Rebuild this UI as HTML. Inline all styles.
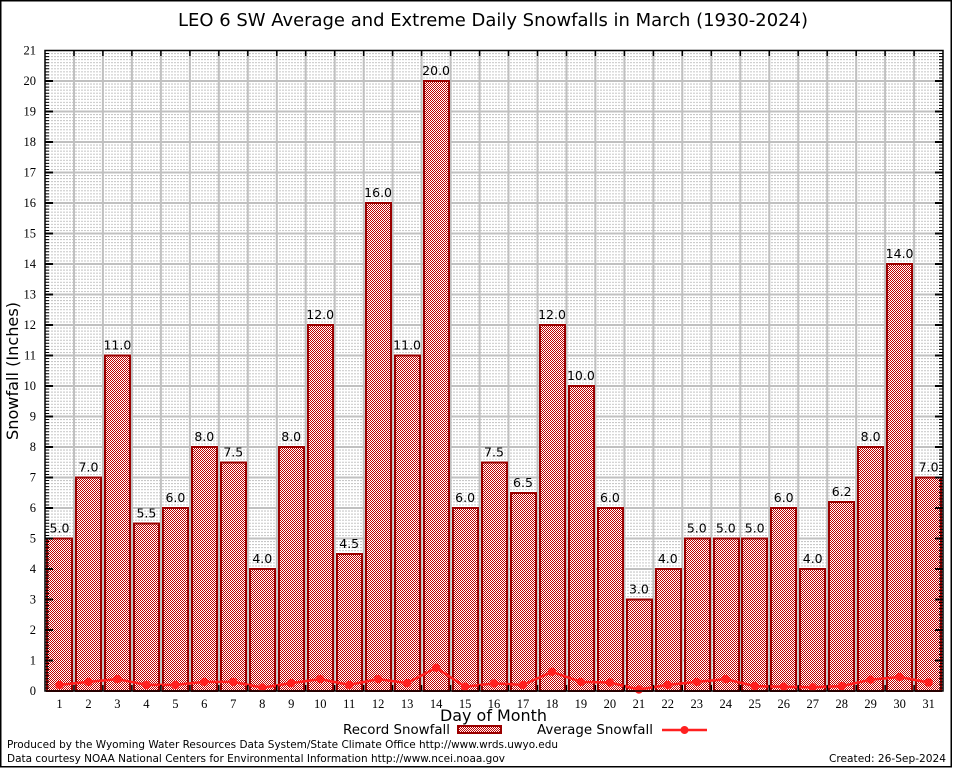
<!DOCTYPE html>
<html><head><meta charset="utf-8"><style>
html,body{margin:0;padding:0;background:#fff;}
svg{display:block;}
</style></head><body>
<svg width="954" height="768" viewBox="0 0 954 768" xmlns="http://www.w3.org/2000/svg">
<defs>
<pattern id="chk" width="2" height="2" patternUnits="userSpaceOnUse">
<rect width="2" height="2" fill="#ffffff" shape-rendering="crispEdges"/>
<rect x="0" y="0" width="1" height="1" fill="#c00000" shape-rendering="crispEdges"/>
<rect x="1" y="1" width="1" height="1" fill="#c00000" shape-rendering="crispEdges"/>
</pattern>
<pattern id="mg" x="45" y="690.5" width="3" height="3.05" patternUnits="userSpaceOnUse">
<rect x="0" y="0" width="2" height="1" fill="#c4c4c4"/>
</pattern>
</defs>
<rect width="954" height="768" fill="#fff"/>
<rect x="45" y="50.5" width="898" height="640.5" fill="url(#mg)"/>
<g stroke="#c0c0c0" stroke-width="2">
<line x1="45" x2="943" y1="660.5" y2="660.5"/><line x1="45" x2="943" y1="630" y2="630"/><line x1="45" x2="943" y1="599.5" y2="599.5"/><line x1="45" x2="943" y1="569" y2="569"/><line x1="45" x2="943" y1="538.5" y2="538.5"/><line x1="45" x2="943" y1="508" y2="508"/><line x1="45" x2="943" y1="477.5" y2="477.5"/><line x1="45" x2="943" y1="447" y2="447"/><line x1="45" x2="943" y1="416.5" y2="416.5"/><line x1="45" x2="943" y1="386" y2="386"/><line x1="45" x2="943" y1="355.5" y2="355.5"/><line x1="45" x2="943" y1="325" y2="325"/><line x1="45" x2="943" y1="294.5" y2="294.5"/><line x1="45" x2="943" y1="264" y2="264"/><line x1="45" x2="943" y1="233.5" y2="233.5"/><line x1="45" x2="943" y1="203" y2="203"/><line x1="45" x2="943" y1="172.5" y2="172.5"/><line x1="45" x2="943" y1="142" y2="142"/><line x1="45" x2="943" y1="111.5" y2="111.5"/><line x1="45" x2="943" y1="81" y2="81"/>
</g>
<g stroke="#c0c0c0" stroke-width="2">
<line x1="74" x2="74" y1="50" y2="691"/><line x1="102.9" x2="102.9" y1="50" y2="691"/><line x1="131.9" x2="131.9" y1="50" y2="691"/><line x1="160.9" x2="160.9" y1="50" y2="691"/><line x1="189.9" x2="189.9" y1="50" y2="691"/><line x1="218.8" x2="218.8" y1="50" y2="691"/><line x1="247.8" x2="247.8" y1="50" y2="691"/><line x1="276.8" x2="276.8" y1="50" y2="691"/><line x1="305.7" x2="305.7" y1="50" y2="691"/><line x1="334.7" x2="334.7" y1="50" y2="691"/><line x1="363.7" x2="363.7" y1="50" y2="691"/><line x1="392.6" x2="392.6" y1="50" y2="691"/><line x1="421.6" x2="421.6" y1="50" y2="691"/><line x1="450.6" x2="450.6" y1="50" y2="691"/><line x1="479.6" x2="479.6" y1="50" y2="691"/><line x1="508.5" x2="508.5" y1="50" y2="691"/><line x1="537.5" x2="537.5" y1="50" y2="691"/><line x1="566.5" x2="566.5" y1="50" y2="691"/><line x1="595.4" x2="595.4" y1="50" y2="691"/><line x1="624.4" x2="624.4" y1="50" y2="691"/><line x1="653.4" x2="653.4" y1="50" y2="691"/><line x1="682.3" x2="682.3" y1="50" y2="691"/><line x1="711.3" x2="711.3" y1="50" y2="691"/><line x1="740.3" x2="740.3" y1="50" y2="691"/><line x1="769.3" x2="769.3" y1="50" y2="691"/><line x1="798.2" x2="798.2" y1="50" y2="691"/><line x1="827.2" x2="827.2" y1="50" y2="691"/><line x1="856.2" x2="856.2" y1="50" y2="691"/><line x1="885.1" x2="885.1" y1="50" y2="691"/><line x1="914.1" x2="914.1" y1="50" y2="691"/>
</g>
<g fill="url(#chk)" stroke="#9a0000" stroke-width="2" shape-rendering="crispEdges">
<rect x="47" y="538.5" width="25" height="152.5"/>
<rect x="76" y="477.5" width="25" height="213.5"/>
<rect x="105" y="355.5" width="25" height="335.5"/>
<rect x="134" y="523.25" width="25" height="167.75"/>
<rect x="163" y="508" width="25" height="183"/>
<rect x="192" y="447" width="25" height="244"/>
<rect x="221" y="462.25" width="25" height="228.75"/>
<rect x="250" y="569" width="25" height="122"/>
<rect x="279" y="447" width="25" height="244"/>
<rect x="308" y="325" width="25" height="366"/>
<rect x="337" y="553.75" width="25" height="137.25"/>
<rect x="366" y="203" width="25" height="488"/>
<rect x="395" y="355.5" width="25" height="335.5"/>
<rect x="424" y="81" width="25" height="610"/>
<rect x="453" y="508" width="25" height="183"/>
<rect x="482" y="462.25" width="25" height="228.75"/>
<rect x="511" y="492.75" width="25" height="198.25"/>
<rect x="540" y="325" width="25" height="366"/>
<rect x="569" y="386" width="25" height="305"/>
<rect x="598" y="508" width="25" height="183"/>
<rect x="627" y="599.5" width="25" height="91.5"/>
<rect x="656" y="569" width="25" height="122"/>
<rect x="685" y="538.5" width="25" height="152.5"/>
<rect x="714" y="538.5" width="25" height="152.5"/>
<rect x="742" y="538.5" width="25" height="152.5"/>
<rect x="771" y="508" width="25" height="183"/>
<rect x="800" y="569" width="25" height="122"/>
<rect x="829" y="501.9" width="25" height="189.1"/>
<rect x="858" y="447" width="25" height="244"/>
<rect x="887" y="264" width="25" height="427"/>
<rect x="916" y="477.5" width="25" height="213.5"/>
</g>
<g font-family="'DejaVu Sans','Liberation Sans',sans-serif" font-size="12.5" fill="#000" text-anchor="middle">
<text x="59.5" y="532.5">5.0</text>
<text x="88.5" y="471.5">7.0</text>
<text x="117.4" y="349.5">11.0</text>
<text x="146.4" y="517.25">5.5</text>
<text x="175.4" y="502">6.0</text>
<text x="204.3" y="441">8.0</text>
<text x="233.3" y="456.25">7.5</text>
<text x="262.3" y="563">4.0</text>
<text x="291.2" y="441">8.0</text>
<text x="320.2" y="319">12.0</text>
<text x="349.2" y="547.75">4.5</text>
<text x="378.1" y="197">16.0</text>
<text x="407.1" y="349.5">11.0</text>
<text x="436.1" y="75">20.0</text>
<text x="465.1" y="502">6.0</text>
<text x="494" y="456.25">7.5</text>
<text x="523" y="486.75">6.5</text>
<text x="552" y="319">12.0</text>
<text x="580.9" y="380">10.0</text>
<text x="609.9" y="502">6.0</text>
<text x="638.9" y="593.5">3.0</text>
<text x="667.8" y="563">4.0</text>
<text x="696.8" y="532.5">5.0</text>
<text x="725.8" y="532.5">5.0</text>
<text x="754.7" y="532.5">5.0</text>
<text x="783.7" y="502">6.0</text>
<text x="812.7" y="563">4.0</text>
<text x="841.7" y="495.9">6.2</text>
<text x="870.6" y="441">8.0</text>
<text x="899.6" y="258">14.0</text>
<text x="928.6" y="471.5">7.0</text>
</g>
<polyline fill="none" stroke="#ff2020" stroke-width="2.5" points="59.5,684.9 88.5,681.9 117.4,679.1 146.4,684.9 175.4,684.9 204.3,681.9 233.3,681.9 262.3,687.6 291.2,683.1 320.2,679.1 349.2,684.9 378.1,679.1 407.1,683.1 436.1,667.8 465.1,686.7 494,683.4 523,684.9 552,671.8 580.9,681.9 609.9,682.5 638.9,689.5 667.8,684.9 696.8,681.9 725.8,679.1 754.7,686.1 783.7,686.7 812.7,687.3 841.7,686.1 870.6,679.7 899.6,677 928.6,682.5"/>
<g fill="#ff2020">
<circle cx="59.5" cy="684.9" r="4.2"/><circle cx="88.5" cy="681.9" r="4.2"/><circle cx="117.4" cy="679.1" r="4.2"/><circle cx="146.4" cy="684.9" r="4.2"/><circle cx="175.4" cy="684.9" r="4.2"/><circle cx="204.3" cy="681.9" r="4.2"/><circle cx="233.3" cy="681.9" r="4.2"/><circle cx="262.3" cy="687.6" r="4.2"/><circle cx="291.2" cy="683.1" r="4.2"/><circle cx="320.2" cy="679.1" r="4.2"/><circle cx="349.2" cy="684.9" r="4.2"/><circle cx="378.1" cy="679.1" r="4.2"/><circle cx="407.1" cy="683.1" r="4.2"/><circle cx="436.1" cy="667.8" r="4.2"/><circle cx="465.1" cy="686.7" r="4.2"/><circle cx="494" cy="683.4" r="4.2"/><circle cx="523" cy="684.9" r="4.2"/><circle cx="552" cy="671.8" r="4.2"/><circle cx="580.9" cy="681.9" r="4.2"/><circle cx="609.9" cy="682.5" r="4.2"/><circle cx="638.9" cy="689.5" r="4.2"/><circle cx="667.8" cy="684.9" r="4.2"/><circle cx="696.8" cy="681.9" r="4.2"/><circle cx="725.8" cy="679.1" r="4.2"/><circle cx="754.7" cy="686.1" r="4.2"/><circle cx="783.7" cy="686.7" r="4.2"/><circle cx="812.7" cy="687.3" r="4.2"/><circle cx="841.7" cy="686.1" r="4.2"/><circle cx="870.6" cy="679.7" r="4.2"/><circle cx="899.6" cy="677" r="4.2"/><circle cx="928.6" cy="682.5" r="4.2"/>
</g>
<rect x="45" y="50.5" width="898" height="640.5" fill="none" stroke="#000" stroke-width="1.5"/>
<line x1="47" y1="691.5" x2="47" y2="50" stroke="#000" stroke-width="4" stroke-dasharray="1 2.05"/>
<line x1="941" y1="691.5" x2="941" y2="50" stroke="#000" stroke-width="4" stroke-dasharray="1 2.05"/>
<g stroke="#000" stroke-width="2">
<path d="M45 660.5h8M45 630h8M45 599.5h8M45 569h8M45 538.5h8M45 508h8M45 477.5h8M45 447h8M45 416.5h8M45 386h8M45 355.5h8M45 325h8M45 294.5h8M45 264h8M45 233.5h8M45 203h8M45 172.5h8M45 142h8M45 111.5h8M45 81h8"/>
<path d="M943 660.5h-8M943 630h-8M943 599.5h-8M943 569h-8M943 538.5h-8M943 508h-8M943 477.5h-8M943 447h-8M943 416.5h-8M943 386h-8M943 355.5h-8M943 325h-8M943 294.5h-8M943 264h-8M943 233.5h-8M943 203h-8M943 172.5h-8M943 142h-8M943 111.5h-8M943 81h-8"/>
</g>
<g stroke="#000" stroke-width="1.5">
<path d="M74 50v6M102.9 50v6M131.9 50v6M160.9 50v6M189.9 50v6M218.8 50v6M247.8 50v6M276.8 50v6M305.7 50v6M334.7 50v6M363.7 50v6M392.6 50v6M421.6 50v6M450.6 50v6M479.6 50v6M508.5 50v6M537.5 50v6M566.5 50v6M595.4 50v6M624.4 50v6M653.4 50v6M682.3 50v6M711.3 50v6M740.3 50v6M769.3 50v6M798.2 50v6M827.2 50v6M856.2 50v6M885.1 50v6M914.1 50v6"/>
<path d="M74 691v-6M102.9 691v-6M131.9 691v-6M160.9 691v-6M189.9 691v-6M218.8 691v-6M247.8 691v-6M276.8 691v-6M305.7 691v-6M334.7 691v-6M363.7 691v-6M392.6 691v-6M421.6 691v-6M450.6 691v-6M479.6 691v-6M508.5 691v-6M537.5 691v-6M566.5 691v-6M595.4 691v-6M624.4 691v-6M653.4 691v-6M682.3 691v-6M711.3 691v-6M740.3 691v-6M769.3 691v-6M798.2 691v-6M827.2 691v-6M856.2 691v-6M885.1 691v-6M914.1 691v-6"/>
</g>
<g font-family="'Liberation Serif',serif" font-size="12.5" fill="#000" text-anchor="end">
<text x="36" y="695">0</text><text x="36" y="664.5">1</text><text x="36" y="634">2</text><text x="36" y="603.5">3</text><text x="36" y="573">4</text><text x="36" y="542.5">5</text><text x="36" y="512">6</text><text x="36" y="481.5">7</text><text x="36" y="451">8</text><text x="36" y="420.5">9</text><text x="36" y="390">10</text><text x="36" y="359.5">11</text><text x="36" y="329">12</text><text x="36" y="298.5">13</text><text x="36" y="268">14</text><text x="36" y="237.5">15</text><text x="36" y="207">16</text><text x="36" y="176.5">17</text><text x="36" y="146">18</text><text x="36" y="115.5">19</text><text x="36" y="85">20</text><text x="36" y="54.5">21</text>
</g>
<g font-family="'Liberation Serif',serif" font-size="12.5" fill="#000" text-anchor="middle">
<text x="59.5" y="708">1</text><text x="88.5" y="708">2</text><text x="117.4" y="708">3</text><text x="146.4" y="708">4</text><text x="175.4" y="708">5</text><text x="204.3" y="708">6</text><text x="233.3" y="708">7</text><text x="262.3" y="708">8</text><text x="291.2" y="708">9</text><text x="320.2" y="708">10</text><text x="349.2" y="708">11</text><text x="378.1" y="708">12</text><text x="407.1" y="708">13</text><text x="436.1" y="708">14</text><text x="465.1" y="708">15</text><text x="494" y="708">16</text><text x="523" y="708">17</text><text x="552" y="708">18</text><text x="580.9" y="708">19</text><text x="609.9" y="708">20</text><text x="638.9" y="708">21</text><text x="667.8" y="708">22</text><text x="696.8" y="708">23</text><text x="725.8" y="708">24</text><text x="754.7" y="708">25</text><text x="783.7" y="708">26</text><text x="812.7" y="708">27</text><text x="841.7" y="708">28</text><text x="870.6" y="708">29</text><text x="899.6" y="708">30</text><text x="928.6" y="708">31</text>
</g>
<g font-family="'DejaVu Sans','Liberation Sans',sans-serif" fill="#000">
<text x="178" y="26" font-size="18" textLength="630" lengthAdjust="spacingAndGlyphs">LEO 6 SW Average and Extreme Daily Snowfalls in March (1930-2024)</text>
<text transform="translate(18,440) rotate(-90)" font-size="16" textLength="138" lengthAdjust="spacingAndGlyphs">Snowfall (Inches)</text>
<text x="440" y="721" font-size="16" textLength="107" lengthAdjust="spacingAndGlyphs">Day of Month</text>
<text x="343" y="734" font-size="13" textLength="107" lengthAdjust="spacingAndGlyphs">Record Snowfall</text>
<text x="537" y="734" font-size="13" textLength="116" lengthAdjust="spacingAndGlyphs">Average Snowfall</text>
<text x="7" y="748" font-size="11" textLength="551" lengthAdjust="spacingAndGlyphs">Produced by the Wyoming Water Resources Data System/State Climate Office http://www.wrds.uwyo.edu</text>
<text x="7" y="762" font-size="11" textLength="498" lengthAdjust="spacingAndGlyphs">Data courtesy NOAA National Centers for Environmental Information http://www.ncei.noaa.gov</text>
<text x="829" y="762" font-size="11" textLength="117" lengthAdjust="spacingAndGlyphs">Created: 26-Sep-2024</text>
</g>
<rect x="458" y="726" width="43" height="7" fill="url(#chk)" stroke="#9a0000" stroke-width="2" shape-rendering="crispEdges"/>
<line x1="662" y1="730" x2="707" y2="730" stroke="#ff2020" stroke-width="2.5"/>
<circle cx="684.5" cy="730" r="4" fill="#ff2020"/>
<rect x="0.75" y="0.75" width="950.5" height="766" fill="none" stroke="#000" stroke-width="1.5"/>
</svg>
</body></html>
